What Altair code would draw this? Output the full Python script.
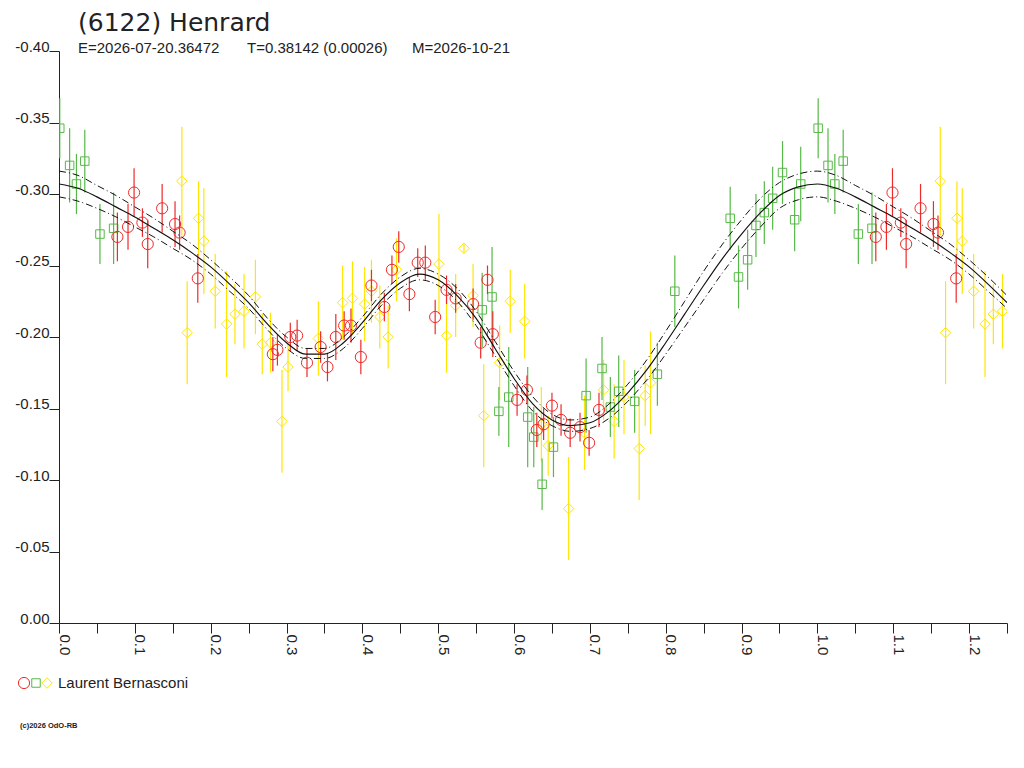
import altair as alt
import pandas as pd

# ---------------- data ----------------
green_phase = [0.001, 0.014, 0.023, 0.034, 0.054, 0.072, 0.558, 0.571, 0.580, 0.593,
               0.618, 0.626, 0.637, 0.652, 0.695, 0.716, 0.727, 0.738, 0.759, 0.789,
               0.812, 0.885, 0.896, 0.908, 0.919, 0.930, 0.941, 0.954, 0.970, 0.978]
green_mag = [-0.346, -0.320, -0.307, -0.323, -0.272, -0.276, -0.219, -0.228, -0.148, -0.158,
             -0.144, -0.130, -0.097, -0.123, -0.159, -0.178, -0.151, -0.162, -0.155, -0.174,
             -0.232, -0.283, -0.242, -0.254, -0.278, -0.287, -0.297, -0.315, -0.282, -0.307]
green_err = [0.021, 0.026, 0.021, 0.022, 0.021, 0.025, 0.026, 0.035, 0.017, 0.035,
             0.035, 0.021, 0.018, 0.021, 0.026, 0.022, 0.021, 0.025, 0.022, 0.022,
             0.025, 0.022, 0.022, 0.021, 0.022, 0.022, 0.022, 0.022, 0.022, 0.026]

red_phase = [0.077, 0.091, 0.099, 0.110, 0.117, 0.136, 0.153, 0.159, 0.183, 0.282,
             0.288, 0.305, 0.314, 0.327, 0.345, 0.354, 0.365, 0.376, 0.385, 0.398,
             0.412, 0.429, 0.439, 0.448, 0.462, 0.473, 0.483, 0.496, 0.511, 0.523,
             0.546, 0.556, 0.565, 0.572, 0.604, 0.617, 0.630, 0.639, 0.650, 0.662,
             0.674, 0.687, 0.699, 0.712]
red_mag = [-0.270, -0.277, -0.301, -0.280, -0.265, -0.290, -0.279, -0.273, -0.241, -0.188,
           -0.191, -0.200, -0.201, -0.182, -0.193, -0.179, -0.200, -0.208, -0.208, -0.186,
           -0.236, -0.221, -0.247, -0.263, -0.230, -0.252, -0.252, -0.214, -0.233, -0.227,
           -0.223, -0.196, -0.240, -0.202, -0.156, -0.163, -0.135, -0.139, -0.152, -0.142,
           -0.133, -0.137, -0.126, -0.149]
red_err = [0.017, 0.016, 0.017, 0.010, 0.017, 0.017, 0.016, 0.012, 0.017, 0.012,
           0.011, 0.010, 0.011, 0.010, 0.011, 0.010, 0.016, 0.010, 0.012, 0.012,
           0.011, 0.010, 0.010, 0.011, 0.012, 0.010, 0.012, 0.012, 0.010, 0.010,
           0.011, 0.011, 0.010, 0.016, 0.011, 0.010, 0.012, 0.011, 0.009, 0.011,
           0.010, 0.010, 0.009, 0.012]

yellow_phase = [0.162, 0.169, 0.184, 0.191, 0.206, 0.221, 0.232, 0.244, 0.259, 0.268,
                0.279, 0.294, 0.302, 0.342, 0.374, 0.387, 0.403, 0.412, 0.423, 0.434,
                0.445, 0.501, 0.511, 0.523, 0.534, 0.546, 0.560, 0.581, 0.595, 0.614,
                0.636, 0.645, 0.672, 0.693, 0.718, 0.732, 0.745, 0.765, 0.773, 0.780]
yellow_mag = [-0.309, -0.203, -0.283, -0.267, -0.232, -0.209, -0.216, -0.218, -0.228, -0.195,
              -0.196, -0.141, -0.179, -0.199, -0.224, -0.227, -0.223, -0.232, -0.214, -0.200,
              -0.247, -0.251, -0.201, -0.222, -0.262, -0.229, -0.145, -0.182, -0.225, -0.211,
              -0.139, -0.124, -0.080, -0.133, -0.163, -0.141, -0.158, -0.122, -0.159, -0.168]
yellow_err = [0.038, 0.036, 0.026, 0.037, 0.026, 0.037, 0.021, 0.026, 0.026, 0.021,
              0.021, 0.036, 0.017, 0.026, 0.026, 0.026, 0.026, 0.022, 0.022, 0.022,
              0.022, 0.035, 0.026, 0.022, 0.003, 0.022, 0.036, 0.026, 0.022, 0.026,
              0.026, 0.021, 0.036, 0.026, 0.021, 0.026, 0.026, 0.036, 0.021, 0.036]

fit_phase = [0.000, 0.025, 0.050, 0.075, 0.100, 0.125, 0.150, 0.175, 0.200, 0.225,
             0.250, 0.275, 0.300, 0.325, 0.350, 0.375, 0.400, 0.425, 0.450, 0.475,
             0.500, 0.525, 0.550, 0.575, 0.600, 0.625, 0.650, 0.675, 0.700, 0.725,
             0.750, 0.775, 0.800, 0.825, 0.850, 0.875, 0.900, 0.925, 0.950, 0.975, 1.000]
fit_mid = [-0.307, -0.304, -0.298, -0.291, -0.284, -0.276, -0.268, -0.259, -0.249, -0.237,
           -0.224, -0.209, -0.196, -0.188, -0.188, -0.196, -0.210, -0.226, -0.238, -0.244,
           -0.240, -0.229, -0.213, -0.192, -0.171, -0.153, -0.142, -0.138, -0.140, -0.148,
           -0.161, -0.177, -0.196, -0.216, -0.236, -0.255, -0.272, -0.287, -0.299, -0.305, -0.307]
fit_upper = [-0.316, -0.313, -0.306, -0.299, -0.291, -0.283, -0.274, -0.265, -0.254, -0.242,
             -0.229, -0.213, -0.200, -0.192, -0.192, -0.200, -0.214, -0.230, -0.242, -0.248,
             -0.244, -0.234, -0.218, -0.197, -0.176, -0.158, -0.146, -0.142, -0.144, -0.153,
             -0.167, -0.184, -0.204, -0.225, -0.246, -0.265, -0.282, -0.297, -0.308, -0.314, -0.316]
fit_lower = [-0.298, -0.295, -0.290, -0.284, -0.277, -0.270, -0.262, -0.254, -0.244, -0.232,
             -0.220, -0.205, -0.192, -0.185, -0.185, -0.192, -0.206, -0.222, -0.234, -0.240,
             -0.236, -0.225, -0.208, -0.187, -0.166, -0.148, -0.138, -0.134, -0.136, -0.143,
             -0.155, -0.170, -0.188, -0.207, -0.226, -0.245, -0.262, -0.277, -0.290, -0.296, -0.298]

title_text = "(6122) Henrard"
sub_texts = ["E=2026-07-20.36472", "T=0.38142 (0.00026)", "M=2026-10-21"]
observer = "Laurent Bernasconi"
copyright_text = "(c)2026 OdO-RB"

RED, GREEN, YELLOW = "#ee2a2a", "#56b947", "#ffe600"
FONT = "Liberation Sans"


def series(phase, mag, err):
    df = pd.DataFrame({"phase": phase, "mag": mag, "err": err})
    rep = df[df.phase <= 0.25].copy()
    rep["phase"] = rep["phase"] + 1.0
    df = pd.concat([df, rep], ignore_index=True)
    df = df[df.phase <= 1.25].copy()
    df["lo"] = df["mag"] - df["err"]
    df["hi"] = df["mag"] + df["err"]
    return df


fit = pd.DataFrame({"phase": fit_phase, "mid": fit_mid, "up": fit_upper, "low": fit_lower})
fit_rep = fit[(fit.phase > 0) & (fit.phase <= 0.25)].copy()
fit_rep["phase"] = fit_rep["phase"] + 1.0
fit = pd.concat([fit, fit_rep], ignore_index=True)

x_ticks = [i * 0.05 for i in range(26)]
y_ticks = [-0.40, -0.35, -0.30, -0.25, -0.20, -0.15, -0.10, -0.05, 0.0]

x_axis = alt.Axis(values=x_ticks, title=None, grid=False,
                  labelExpr="(round(datum.value*20)%2==0) ? format(datum.value,'.1f') : ''",
                  labelAngle=90, labelAlign="left", labelBaseline="alphabetic",
                  tickSize=10, labelPadding=1, labelOverlap=False, labelFlush=False)
y_axis = alt.Axis(values=y_ticks, title=None, grid=False,
                  labelExpr="replace(format(datum.value,'.2f'),'\u2212','-')",
                  labelAlign="right", labelBaseline="alphabetic",
                  tickSize=10, labelPadding=0, labelOverlap=False, labelFlush=False)

xs = alt.Scale(domain=[0, 1.25], nice=False, zero=False)
ys = alt.Scale(domain=[-0.40, 0.0], reverse=True, nice=False, zero=False)


def X(field):
    return alt.X(field, type="quantitative", scale=xs, axis=x_axis)


def Y(field):
    return alt.Y(field, type="quantitative", scale=ys, axis=y_axis)


layers = []
for ph, mg, er, col, shape, size in [
    (yellow_phase, yellow_mag, yellow_err, YELLOW, "diamond", 110),
    (green_phase, green_mag, green_err, GREEN, "square", 72),
    (red_phase, red_mag, red_err, RED, "circle", 125),
]:
    df = series(ph, mg, er)
    base = alt.Chart(df)
    layers.append(base.mark_rule(color=col, strokeWidth=1.2, clip=True).encode(
        x=X("phase"), y=Y("lo"), y2="hi"))
    layers.append(base.mark_point(shape=shape, size=size, filled=False, color=col,
                                  strokeWidth=1, opacity=1, clip=True).encode(
        x=X("phase"), y=Y("mag")))

fb = alt.Chart(fit)
layers.append(fb.mark_line(color="#111", strokeWidth=1, strokeDash=[7, 3, 1, 3],
                           interpolate="monotone", clip=True).encode(x=X("phase"), y=Y("up")))
layers.append(fb.mark_line(color="#111", strokeWidth=1, strokeDash=[7, 3, 1, 3],
                           interpolate="monotone", clip=True).encode(x=X("phase"), y=Y("low")))
layers.append(fb.mark_line(color="#111", strokeWidth=1.15,
                           interpolate="monotone", clip=True).encode(x=X("phase"), y=Y("mid")))

# texts (positions in pixels relative to plot area)
one = pd.DataFrame({"t": [0]})
layers.append(alt.Chart(one).mark_text(text=title_text, font="DejaVu Sans", fontSize=25,
                                       align="left", baseline="alphabetic", color="#222").encode(
    x=alt.value(19), y=alt.value(-20)))
for txt, xp in zip(sub_texts, [19, 188, 353]):
    layers.append(alt.Chart(one).mark_text(text=txt, font=FONT, fontSize=15,
                                           align="left", baseline="alphabetic", color="#222").encode(
        x=alt.value(xp), y=alt.value(2)))

for col, shape, size, xp in [(RED, "circle", 125, -35), (GREEN, "square", 72, -23),
                             (YELLOW, "diamond", 110, -12)]:
    layers.append(alt.Chart(one).mark_point(shape=shape, size=size, filled=False, color=col,
                                            strokeWidth=1, opacity=1).encode(
        x=alt.value(xp), y=alt.value(632)))
layers.append(alt.Chart(one).mark_text(text=observer, font=FONT, fontSize=15,
                                       align="left", baseline="alphabetic", color="#222").encode(
    x=alt.value(-1), y=alt.value(637)))
layers.append(alt.Chart(one).mark_text(text=copyright_text, font=FONT, fontSize=7.5,
                                       fontWeight="bold", align="left", baseline="middle",
                                       color="#222").encode(
    x=alt.value(-39), y=alt.value(675)))

chart = alt.layer(*layers).properties(
    width=948, height=572,
    autosize=alt.AutoSizeParams(type="none"),
    padding={"left": 51, "top": 43, "right": 8, "bottom": 130},
).configure_view(stroke=None).configure_axis(
    domainColor="#222", tickColor="#222", labelColor="#222",
    labelFont=FONT, labelFontSize=15, domainWidth=1, tickWidth=1,
)

chart.save("out.html", embed_options={"renderer": "svg", "actions": False})
